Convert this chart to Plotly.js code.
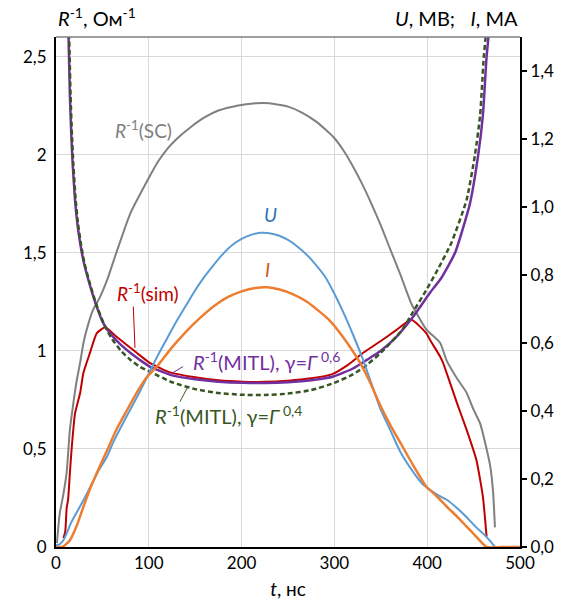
<!DOCTYPE html>
<html>
<head>
<meta charset="utf-8">
<script src="https://cdn.plot.ly/plotly-3.0.1.min.js"></script>
<style>html,body{margin:0;padding:0;background:#fff}#chart{width:568px;height:600px}</style>
</head>
<body>
<div id="chart"></div>
<script>
// ---- Data (t in ns) ----
const scT = [1, 4, 8, 11.5, 15, 18.6, 22, 26, 30, 35, 40, 47, 55, 65, 80, 101, 110, 120, 130, 145, 160, 175, 195, 215, 230, 250, 265, 280, 290, 299, 310, 320, 330, 338, 350, 360, 371, 383, 399, 414, 421, 432, 442, 450, 457, 463, 468, 471, 473];
const scV = [0.02, 0.17, 0.27, 0.38, 0.6, 0.73, 0.84, 0.94, 1.05, 1.14, 1.21, 1.27, 1.36, 1.5, 1.7, 1.89, 1.965, 2.03, 2.08, 2.14, 2.19, 2.225, 2.25, 2.262, 2.262, 2.245, 2.215, 2.17, 2.13, 2.09, 2.02, 1.94, 1.85, 1.77, 1.64, 1.52, 1.39, 1.24, 1.11, 1.04, 0.95, 0.86, 0.79, 0.7, 0.63, 0.52, 0.41, 0.28, 0.1];

const uT = [0, 4, 8, 11.5, 16, 22, 30, 37, 45, 55, 62, 76, 90, 100, 110, 120, 130, 140, 150, 160, 170, 180, 190, 200, 210, 220, 230, 240, 250, 260, 270, 280, 290, 300, 310, 320, 331, 340, 349, 360, 371, 385, 395, 403, 412, 421, 432, 442, 452, 460, 467, 473];
const uV = [0.005, 0.008, 0.02, 0.04, 0.07, 0.1, 0.14, 0.177, 0.22, 0.266, 0.31, 0.384, 0.455, 0.51, 0.565, 0.615, 0.665, 0.71, 0.755, 0.795, 0.83, 0.862, 0.888, 0.906, 0.918, 0.924, 0.923, 0.916, 0.903, 0.884, 0.86, 0.83, 0.795, 0.745, 0.688, 0.625, 0.55, 0.48, 0.41, 0.345, 0.28, 0.22, 0.185, 0.168, 0.152, 0.139, 0.115, 0.089, 0.06, 0.04, 0.02, 0.0];

const iT = [0, 7, 15, 22, 29.5, 38, 47, 56, 65, 76, 87, 98, 110, 125, 140, 155, 170, 185, 200, 215, 228, 240, 255, 270, 285, 295, 310, 327.6, 340, 349, 360, 371, 385, 399, 410, 421, 432, 442.5, 452, 464, 480, 500];
const iV = [0, 0, 0.02, 0.06, 0.118, 0.18, 0.236, 0.29, 0.345, 0.4, 0.454, 0.5, 0.535, 0.587, 0.633, 0.673, 0.708, 0.735, 0.752, 0.762, 0.764, 0.758, 0.744, 0.722, 0.69, 0.666, 0.615, 0.542, 0.475, 0.419, 0.36, 0.307, 0.24, 0.178, 0.15, 0.119, 0.09, 0.06, 0.033, 0, 0, 0];

const simT = [8, 10, 11.5, 13, 15, 17, 20.5, 26, 29.5, 36.6, 44, 53, 65, 87, 101, 123, 150, 175, 201, 225, 250, 275, 297, 315, 331, 350, 367, 383, 399, 403, 414, 417, 432, 442.5, 453, 460, 464];
const simV = [0.046, 0.08, 0.2, 0.24, 0.38, 0.51, 0.68, 0.785, 0.887, 0.99, 1.09, 1.12, 1.073, 0.99, 0.939, 0.89, 0.865, 0.85, 0.843, 0.842, 0.848, 0.86, 0.88, 0.93, 0.99, 1.05, 1.107, 1.158, 1.09, 1.056, 0.97, 0.94, 0.735, 0.597, 0.444, 0.257, 0.053];

const mitl6T = [13, 14, 15, 16.5, 18, 20.5, 23, 26, 30, 35, 40, 45, 50, 55, 60, 70, 80, 90, 101, 125, 150, 175, 201.5, 225, 250, 275, 299, 320, 335, 350, 367, 385, 403, 415, 430, 446, 455, 460, 464, 466, 468];
const mitl6V = [2.7, 2.5, 2.3, 2.1, 1.95, 1.77, 1.65, 1.55, 1.45, 1.36, 1.28, 1.21, 1.15, 1.11, 1.08, 1.03, 0.99, 0.955, 0.92, 0.875, 0.855, 0.843, 0.837, 0.836, 0.84, 0.85, 0.869, 0.91, 0.954, 1.0, 1.073, 1.175, 1.296, 1.37, 1.5, 1.75, 2.0, 2.2, 2.5, 2.6, 2.75];

const mitl4T = [13.7, 14.7, 15.7, 17.2, 18.7, 21.2, 23.7, 26.7, 30.5, 35.5, 40.5, 45.5, 50.5, 55.5, 60.5, 70, 80, 90, 101, 125, 150, 175, 201, 225, 250, 275, 299, 320, 335, 350, 372, 385, 399, 412, 426, 442.5, 451.5, 457, 461, 463, 465];
const mitl4V = [2.7, 2.5, 2.3, 2.1, 1.95, 1.77, 1.65, 1.55, 1.45, 1.36, 1.28, 1.21, 1.15, 1.1, 1.06, 1.0, 0.955, 0.92, 0.894, 0.84, 0.805, 0.785, 0.776, 0.775, 0.782, 0.8, 0.835, 0.88, 0.928, 0.99, 1.1, 1.2, 1.31, 1.42, 1.55, 1.77, 2.0, 2.2, 2.5, 2.6, 2.75];

const xTicks = [0, 100, 200, 300, 400, 500];
const yLeftTicks = [0, 0.5, 1, 1.5, 2, 2.5];
const yLeftLabels = ['0', '0,5', '1', '1,5', '2', '2,5'];
const yRightTicks = [0, 0.2, 0.4, 0.6, 0.8, 1.0, 1.2, 1.4];
const yRightLabels = ['0,0', '0,2', '0,4', '0,6', '0,8', '1,0', '1,2', '1,4'];

const FONT = 'Lato, "Open Sans", sans-serif';
const sm = 0.5;

const traces = [
  {x: scT, y: scV, yaxis: 'y', mode: 'lines', line: {color: '#808080', width: 2, shape: 'spline', smoothing: sm}},
  {x: uT, y: uV, yaxis: 'y2', mode: 'lines', line: {color: '#5b9bd5', width: 2, shape: 'spline', smoothing: sm}},
  {x: iT, y: iV, yaxis: 'y2', mode: 'lines', line: {color: '#ed7d31', width: 2.5, shape: 'spline', smoothing: sm}},
  {x: simT, y: simV, yaxis: 'y', mode: 'lines', line: {color: '#c00000', width: 2, shape: 'spline', smoothing: sm}},
  {x: mitl6T, y: mitl6V, yaxis: 'y', mode: 'lines', line: {color: '#7030a0', width: 2.5, shape: 'spline', smoothing: sm}},
  {x: mitl4T, y: mitl4V, yaxis: 'y', mode: 'lines', line: {color: '#375623', width: 2.5, dash: '5px,3px', shape: 'spline', smoothing: sm}}
];

const lab = (x, y, text, color, size) => ({x: x, y: y, xref: 'x', yref: 'y', text: text, showarrow: false, font: {family: FONT, size: size, color: color}});

const layout = {
  width: 568, height: 600,
  margin: {l: 56, r: 48, t: 37, b: 53},
  paper_bgcolor: '#fff', plot_bgcolor: '#fff',
  showlegend: false,
  separators: ', ',
  font: {family: FONT, size: 17, color: '#000'},
  xaxis: {
    range: [0, 500], tickvals: xTicks, ticktext: xTicks.map(String),
    showgrid: true, gridcolor: '#d9d9d9', gridwidth: 1, zeroline: false,
    showline: true, linecolor: '#000', linewidth: 2, ticks: '',
    tickfont: {family: FONT, size: 17, color: '#000'},
    title: {text: '<i>t</i>, нс', font: {family: FONT, size: 19, color: '#000'}, standoff: 11}
  },
  yaxis: {
    range: [0, 2.6], tickvals: yLeftTicks, ticktext: yLeftLabels,
    showgrid: true, gridcolor: '#d9d9d9', gridwidth: 1, zeroline: false,
    showline: true, linecolor: '#000', linewidth: 2, ticks: '',
    ticklabelstandoff: 4,
    tickfont: {family: FONT, size: 17, color: '#000'}
  },
  yaxis2: {
    range: [0, 1.5], overlaying: 'y', side: 'right', tickvals: yRightTicks, ticktext: yRightLabels,
    showgrid: false, zeroline: false,
    showline: true, linecolor: '#000', linewidth: 2, ticks: 'outside', ticklen: 5, tickwidth: 1.5, tickcolor: '#000',
    tickfont: {family: FONT, size: 17, color: '#000'}
  },
  shapes: [
    {type: 'line', xref: 'paper', yref: 'paper', x0: 0, x1: 1, y0: 1, y1: 1, line: {color: '#7f7f7f', width: 1.5}},
    {type: 'line', xref: 'x', yref: 'y', x0: 83.3, y0: 1.226, x1: 85.1, y1: 1.015, line: {color: '#c00000', width: 1}},
    {type: 'line', xref: 'x', yref: 'y', x0: 136.9, y0: 0.92, x1: 124.7, y1: 0.885, line: {color: '#7030a0', width: 1}},
    {type: 'line', xref: 'x', yref: 'y', x0: 142.2, y0: 0.818, x1: 133.6, y1: 0.741, line: {color: '#375623', width: 1}}
  ],
  annotations: [
    lab(93.75, 2.13, '<i>R</i><sup>-1</sup>(SC)', '#808080', 19),
    lab(230.6, 1.694, '<i>U</i>', '#2e75b6', 19),
    lab(228.4, 1.413, '<i>I</i>', '#c55a11', 19),
    lab(99, 1.30, '<i>R</i><sup>-1</sup>(sim)', '#c00000', 19),
    lab(226.8, 0.949, '<i>R</i><sup>-1</sup>(MITL), γ=<i>Γ</i><sup> 0,6</sup>', '#7030a0', 20),
    lab(186.4, 0.673, '<i>R</i><sup>-1</sup>(MITL), γ=<i>Γ</i><sup> 0,4</sup>', '#375623', 20),
    {xref: 'paper', yref: 'paper', x: 0, y: 1, xanchor: 'left', yanchor: 'bottom', yshift: 5, showarrow: false,
     text: '<i>R</i><sup>-1</sup>, Ом<sup>-1</sup>', font: {family: FONT, size: 20, color: '#000'}},
    {xref: 'paper', yref: 'paper', x: 1, y: 1, xanchor: 'right', yanchor: 'bottom', yshift: 5, showarrow: false,
     text: '<i>U</i>, МВ;   <i>I</i>, МА', font: {family: FONT, size: 20, color: '#000'}}
  ]
};

Plotly.newPlot('chart', traces, layout, {staticPlot: true, displayModeBar: false});
</script>
</body>
</html>
